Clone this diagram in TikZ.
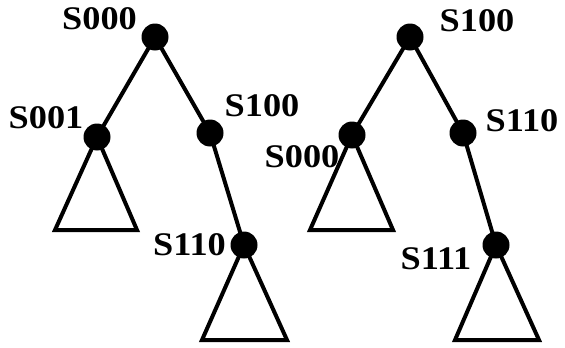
\documentclass[tikz,border=0pt]{standalone}
\usepackage{fontspec}
\setmainfont{Liberation Serif}[BoldFont={Liberation Serif Bold}]
\newfontfamily\lblfont{Liberation Serif}[UprightFont={* Bold}]
\newcommand{\lbltext}[1]{\scalebox{1.1}[1]{#1}}
\begin{document}
\begin{tikzpicture}[x=1pt,y=-1pt,
  dot/.style={circle,fill=black,inner sep=0pt,minimum size=27pt},
  edge/.style={line width=4pt,line join=miter},
  lbl/.style={font=\fontsize{33}{33}\lblfont,anchor=base,inner sep=0pt}]
\useasboundingbox (0,0) rectangle (565,348);
% left tree
\node[dot] (a) at (155,37) {};
\node[dot] (b) at (97,137) {};
\node[dot] (c) at (210,133) {};
\node[dot] (d) at (244,245) {};
\coordinate (b1) at (55,230);
\coordinate (b2) at (137,230);
\coordinate (d1) at (202,340);
\coordinate (d2) at (287,340);
\draw[edge] (a.center) -- (b.center);
\draw[edge] (a.center) -- (c.center);
\draw[edge] (c.center) -- (d.center);
\draw[edge] (b.center) -- (b1) -- (b2) -- cycle;
\draw[edge] (d.center) -- (d1) -- (d2) -- cycle;
\node[lbl] (la) at (99.5,29) {\lbltext{S000}};
\node[lbl] (lb) at (46,128) {\lbltext{S001}};
\node[lbl] (lc) at (262,116) {\lbltext{S100}};
\node[lbl] (ld) at (189.5,255) {\lbltext{S110}};
% right tree
\node[dot] (e) at (410,37) {};
\node[dot] (f) at (352,135) {};
\node[dot] (g) at (463,133) {};
\node[dot] (h) at (496,245) {};
\coordinate (f1) at (310,230);
\coordinate (f2) at (393,230);
\coordinate (h1) at (455,340);
\coordinate (h2) at (539,340);
\draw[edge] (e.center) -- (f.center);
\draw[edge] (e.center) -- (g.center);
\draw[edge] (g.center) -- (h.center);
\draw[edge] (f.center) -- (f1) -- (f2) -- cycle;
\draw[edge] (h.center) -- (h1) -- (h2) -- cycle;
\node[lbl] (le) at (477,31) {\lbltext{S100}};
\node[lbl] (lf) at (302,167) {\lbltext{S000}};
\node[lbl] (lg) at (522,131) {\lbltext{S110}};
\node[lbl] (lh) at (436,269) {\lbltext{S111}};
\end{tikzpicture}
\end{document}
